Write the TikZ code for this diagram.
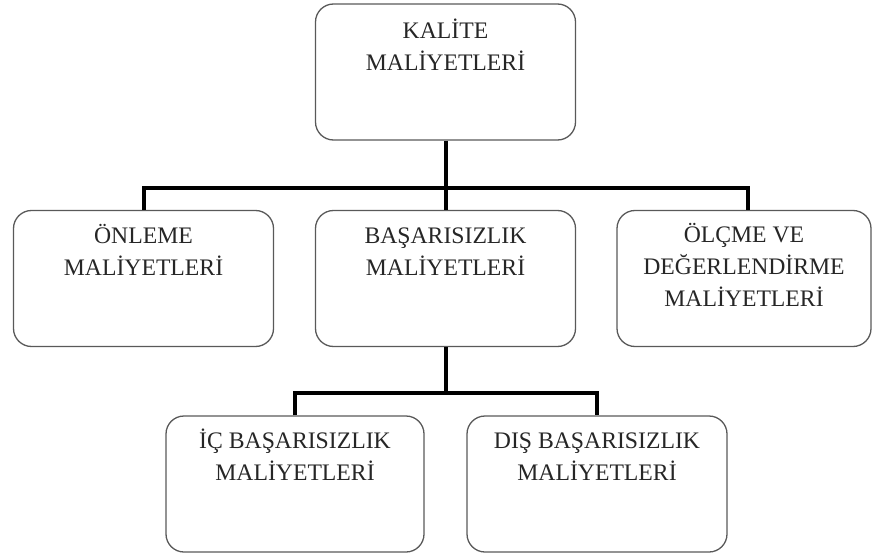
\documentclass[tikz,border=0pt]{standalone}
\usepackage{fontspec}
\setmainfont{Liberation Serif}
\usetikzlibrary{positioning}
\tikzset{
  kutu/.style={
    rectangle,
    rounded corners=18pt,
    draw=black!65, line width=1.3pt,
    minimum width=260pt,
    minimum height=136pt},
  yazi/.style={
    align=center,
    inner sep=0pt,
    anchor=base,
    font=\fontsize{23.7}{32}\selectfont,
    text=black!85},
  bag/.style={draw, line width=4pt},
}
\begin{document}
\begin{tikzpicture}[x=1pt, y=-1pt]
  \useasboundingbox (0,0) rectangle (872,556);
  % kutular
  \node[kutu] (kalite) at (445.5,72) {};
  \node[kutu] (onleme) at (143.5,278.5) {};
  \node[kutu] (basarisizlik) at (445.5,278.5) {};
  \node[kutu, minimum width=254pt] (olcme) at (744,278.5) {};
  \node[kutu, minimum width=258pt] (icbas) at (295,484) {};
  \node[kutu] (disbas) at (597,484) {};
  % yazilar (son satirin tabani)
  \node[yazi] (kaliteYazi) at ([yshift=-67pt]kalite.north) {KALİTE\\MALİYETLERİ};
  \node[yazi] (onlemeYazi) at ([yshift=-65.5pt]onleme.north) {ÖNLEME\\MALİYETLERİ};
  \node[yazi] (basarisizlikYazi) at ([yshift=-65.5pt]basarisizlik.north) {BAŞARISIZLIK\\MALİYETLERİ};
  \node[yazi] (olcmeYazi) at ([yshift=-97pt]olcme.north) {ÖLÇME VE\\DEĞERLENDİRME\\MALİYETLERİ};
  \node[yazi] (icbasYazi) at ([yshift=-65pt]icbas.north) {İÇ BAŞARISIZLIK\\MALİYETLERİ};
  \node[yazi] (disbasYazi) at ([yshift=-65pt]disbas.north) {DIŞ BAŞARISIZLIK\\MALİYETLERİ};
  % baglantilar
  \coordinate (ust) at (445.5,188);
  \coordinate (alt) at (445.5,393);
  \draw[bag] (kalite.south) -- (ust);
  \draw[bag] (onleme.north) |- (ust) -| ([xshift=4pt]olcme.north);
  \draw[bag] (ust) -- (basarisizlik.north);
  \draw[bag] (basarisizlik.south) -- (alt);
  \draw[bag] (icbas.north) |- (alt) -| (disbas.north);
\end{tikzpicture}
\end{document}
